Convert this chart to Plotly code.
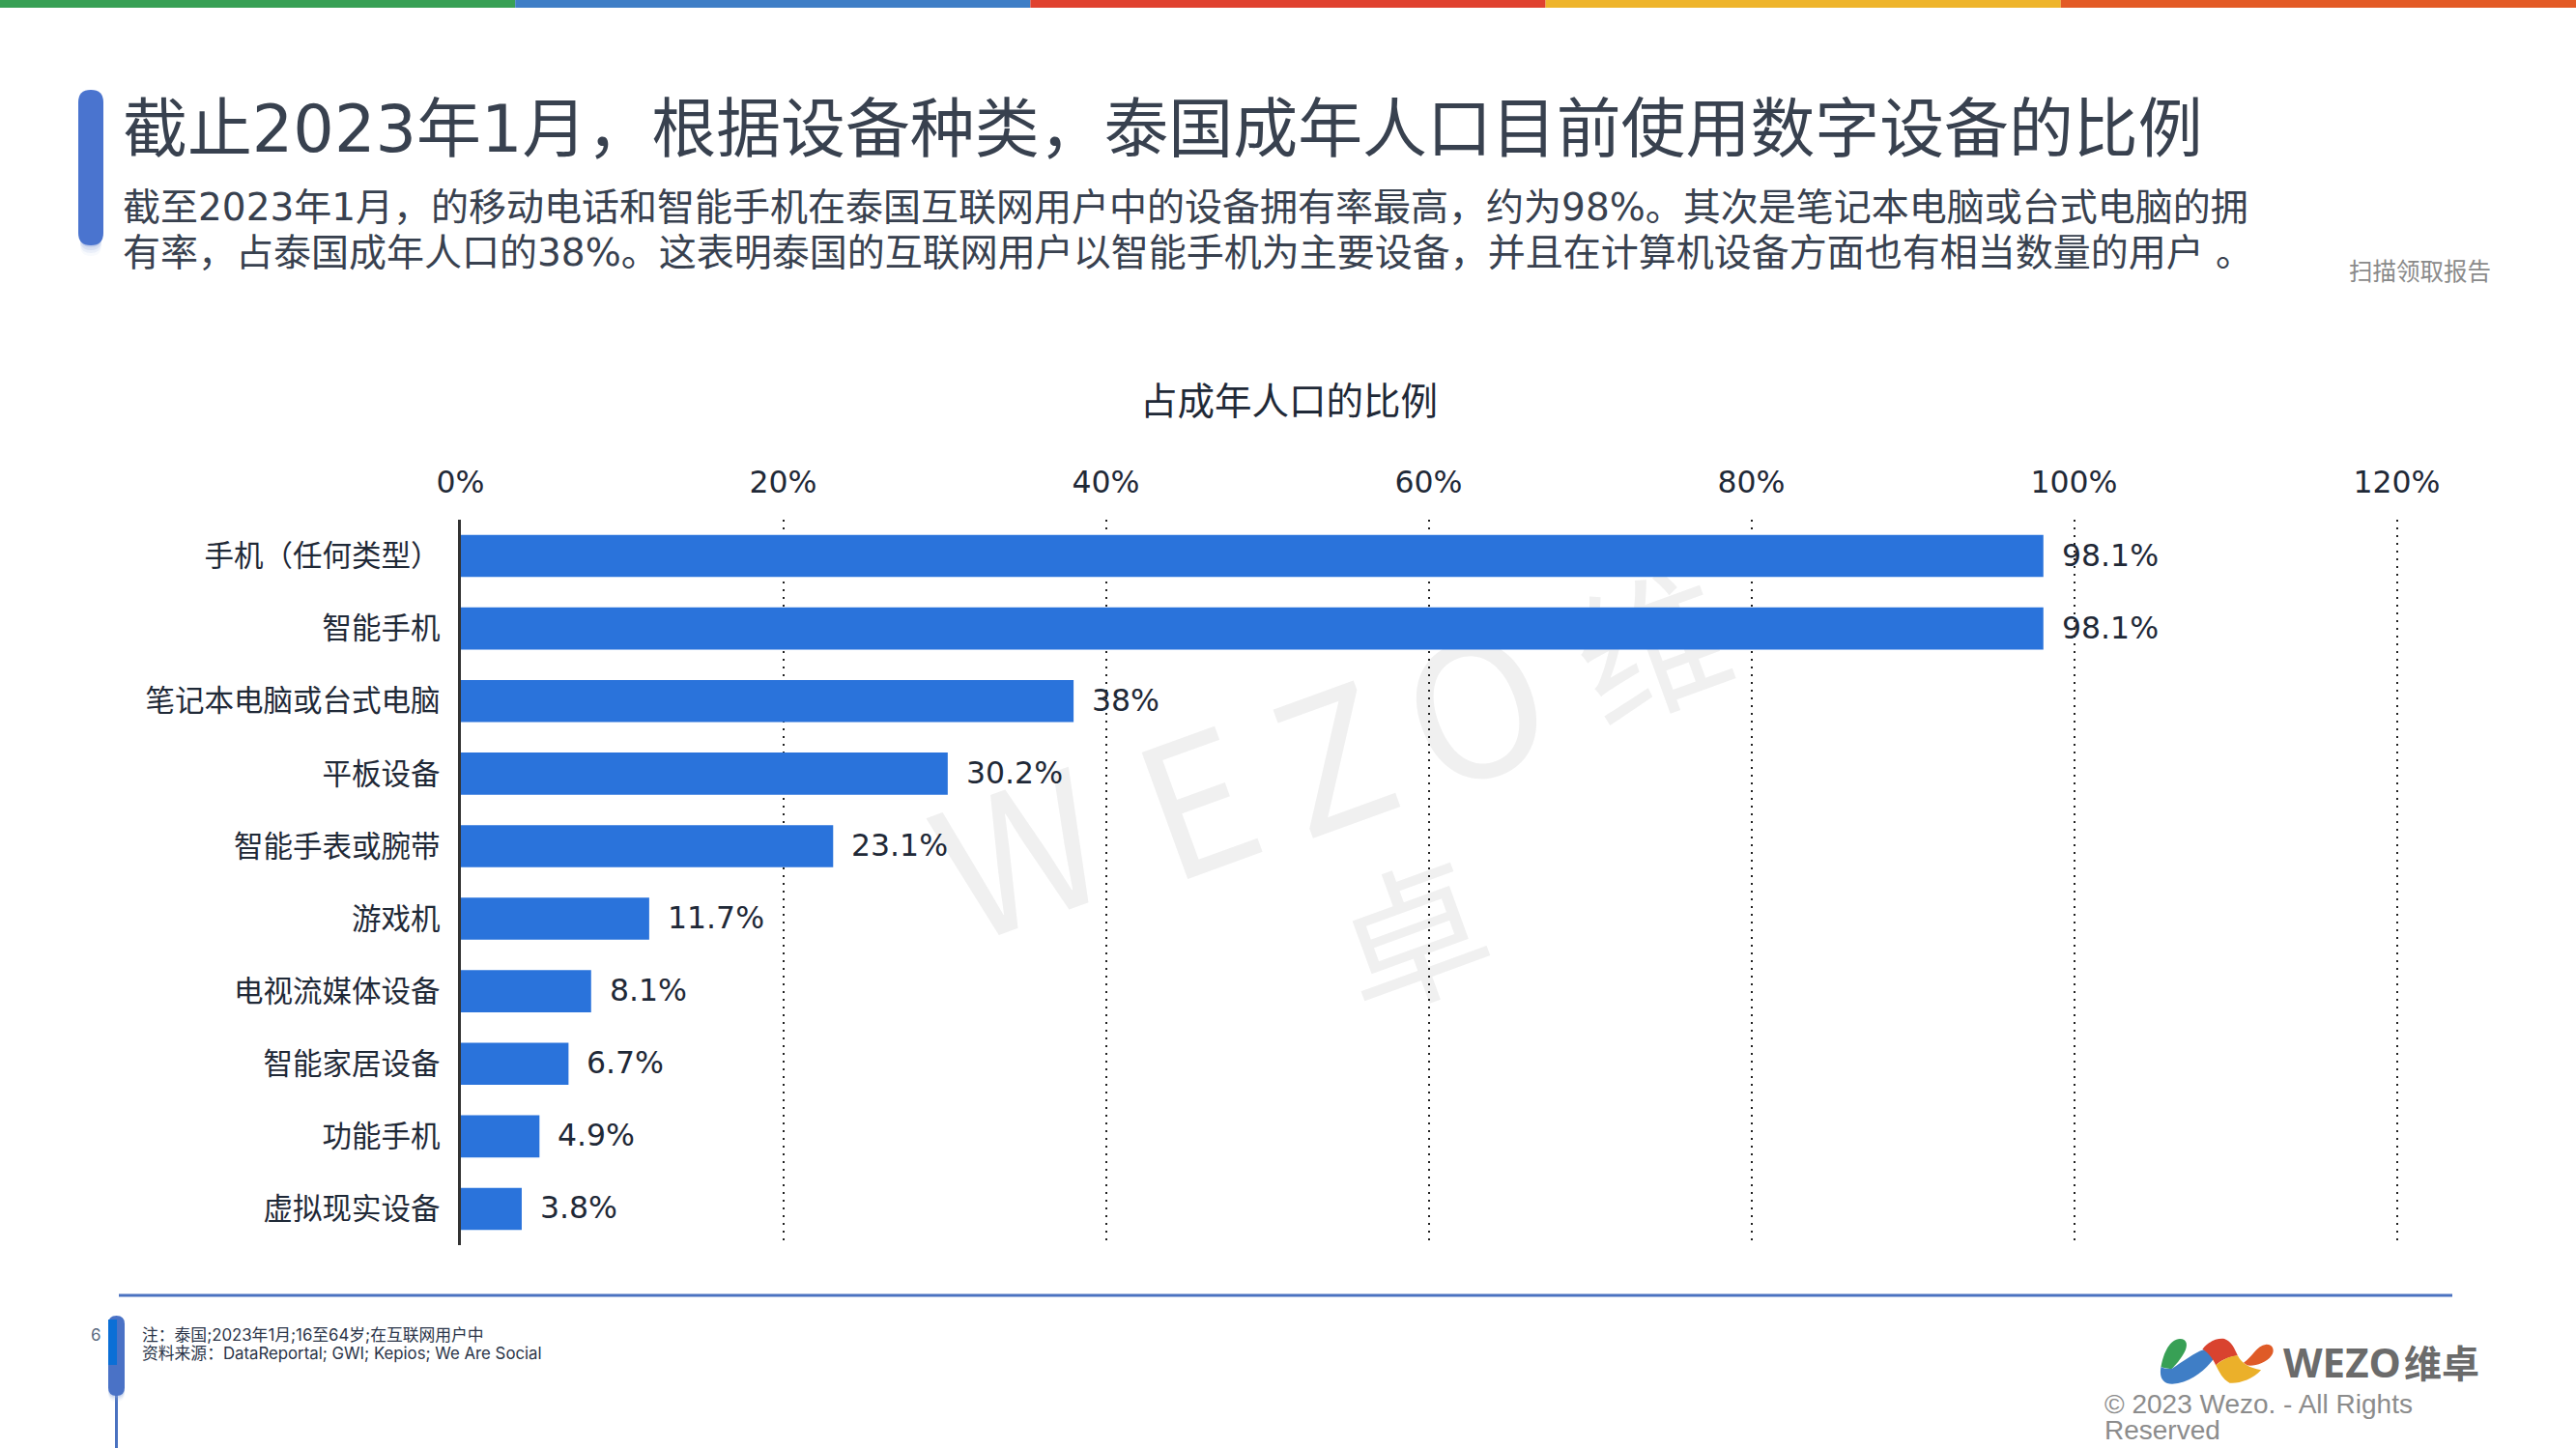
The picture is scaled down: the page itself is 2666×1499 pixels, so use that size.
import plotly.graph_objects as go

W, H = 2666, 1499
FONT = "DejaVu Sans, Noto Sans CJK SC"
SMALL = "Inter, Noto Sans CJK SC"
CJK = "Noto Sans CJK SC"

categories = ["手机（任何类型）", "智能手机", "笔记本电脑或台式电脑", "平板设备", "智能手表或腕带",
              "游戏机", "电视流媒体设备", "智能家居设备", "功能手机", "虚拟现实设备"]
values = [98.1, 98.1, 38, 30.2, 23.1, 11.7, 8.1, 6.7, 4.9, 3.8]
value_labels = ["98.1%", "98.1%", "38%", "30.2%", "23.1%", "11.7%", "8.1%", "6.7%", "4.9%", "3.8%"]
x_ticks = [0, 20, 40, 60, 80, 100, 120]
x_tick_labels = ["0%", "20%", "40%", "60%", "80%", "100%", "120%"]

title_text = "截止2023年1月，根据设备种类，泰国成年人口目前使用数字设备的比例"
sub_line1 = "截至2023年1月，的移动电话和智能手机在泰国互联网用户中的设备拥有率最高，约为98%。其次是笔记本电脑或台式电脑的拥"
sub_line2 = "有率，占泰国成年人口的38%。这表明泰国的互联网用户以智能手机为主要设备，并且在计算机设备方面也有相当数量的用户 。"
chart_title = "占成年人口的比例"
note1 = "注：泰国;2023年1月;16至64岁;在互联网用户中"
note2 = "资料来源：DataReportal; GWI; Kepios; We Are Social"
top_colors = ["#38A055", "#3F7EC6", "#E0412F", "#EEB42B", "#E35A25"]


def px(x):
    return x / W


def py(y):
    return 1 - y / H


def text(x, y, s, size, color="#38414f", xanchor="left", family=FONT, weight=None):
    f = dict(size=size, color=color, family=family)
    if weight:
        f["weight"] = weight
    return dict(text=s, x=px(x), y=py(y), xref="paper", yref="paper", xanchor=xanchor, yanchor="middle",
                showarrow=False, font=f, borderpad=0, borderwidth=0)


def rect(x0, y0, x1, y1, color, layer="above", opacity=1):
    return dict(type="rect", xref="paper", yref="paper", x0=px(x0), x1=px(x1), y0=py(y0), y1=py(y1),
                fillcolor=color, line_width=0, layer=layer, opacity=opacity)


def pill(x0, y0, x1, y1, color, opacity=1):
    r = (x1 - x0) / 2
    pts = (f"M {px(x0)} {py(y0 + r)} Q {px(x0)} {py(y0)} {px(x0 + r)} {py(y0)} Q {px(x1)} {py(y0)} {px(x1)} {py(y0 + r)} "
           f"L {px(x1)} {py(y1 - r)} Q {px(x1)} {py(y1)} {px(x0 + r)} {py(y1)} Q {px(x0)} {py(y1)} {px(x0)} {py(y1 - r)} Z")
    return dict(type="path", path=pts, xref="paper", yref="paper", fillcolor=color, line_width=0, layer="above",
                opacity=opacity)


def logo(segs, color):
    out = []
    nums = segs.split()
    i = 0
    while i < len(nums):
        t = nums[i]
        if t.isalpha():
            out.append(t)
            i += 1
        else:
            out.append(f"{px(2100 + float(t) / 2.77):.5f} {py(1300 + float(nums[i + 1]) / 3):.5f}")
            i += 2
    return dict(type="path", path=" ".join(out), xref="paper", yref="paper", fillcolor=color, line_width=0, layer="above")


def mark(cx, cy, s, size):
    half = 130
    return dict(type="rect", xref="paper", yref="paper", x0=px(cx - half), x1=px(cx + half), y0=py(cy + half),
                y1=py(cy - half), fillcolor="rgba(0,0,0,0)", line_width=0, layer="below",
                label=dict(text=s, textangle=-20, textposition="middle center",
                           font=dict(size=size, color="#f0f0f0", family=CJK)))


shapes = []
for i, c in enumerate(top_colors):
    shapes.append(rect(i * W / 5, 0, (i + 1) * W / 5, 8, c))
for k, op in enumerate([0.30, 0.20, 0.12, 0.06]):
    shapes.append(pill(83, 100, 105, 256 + 3 * k, "#8fa6dc", op))
shapes.append(pill(81, 93, 107, 254, "#4A74CF"))
shapes.append(rect(123, 1339.5, 2538, 1342.5, "#4A72C0"))
shapes.append(rect(119, 1440, 122, 1499, "#4A72C0"))
for k, op in enumerate([0.25, 0.15, 0.08]):
    shapes.append(pill(112, 1366, 129, 1447 + 2 * k, "#8fa6dc", op))
shapes.append(pill(112, 1362, 129, 1445, "#4A72C6"))
shapes.append(rect(112, 1366, 121, 1413, "#0B6FD6"))

shapes.append(logo("M 378 345 C 385 300 405 258 432 258 C 455 258 455 280 445 300 C 435 320 420 340 408 352 C 395 350 385 348 378 345 Z", "#38A055"))
shapes.append(logo("M 378 345 C 385 350 400 352 410 350 C 440 330 475 300 500 292 C 515 295 525 310 528 322 C 500 360 460 395 410 398 C 385 398 372 380 378 345 Z", "#3F7EC6"))
shapes.append(logo("M 497 290 C 515 265 540 255 560 258 C 580 265 590 290 598 310 C 570 315 550 325 535 340 C 530 325 515 300 497 290 Z", "#D9432F"))
shapes.append(logo("M 535 340 C 555 322 575 312 598 310 C 610 335 630 348 665 355 C 640 385 600 398 575 395 C 555 385 545 360 535 340 Z", "#EBB02A"))
shapes.append(logo("M 615 332 C 640 315 650 280 680 275 C 700 275 705 295 695 310 C 680 335 640 345 625 340 Z", "#DF5B27"))

for cx, cy, s, size in [(1062, 902, "W", 190), (1246, 848, "E", 190), (1386, 802, "Z", 190), (1534, 751, "O", 190),
                        (1715, 685, "维", 155), (1467, 985, "卓", 155)]:
    shapes.append(mark(cx, cy, s, size))

annotations = [
    text(127, 134, title_text, 66.9),
    text(127, 214, sub_line1, 39),
    text(127, 261, sub_line2, 39),
    text(2431, 280, "扫描领取报告", 24.5, "#8a8a8a", family=CJK),
    text(1334, 412, chart_title, 38.5, "#1f2937", "center", family=CJK),
    text(99, 1382, "6", 17, "#5b6b80", "center", family=SMALL),
    text(147, 1382, note1, 16.8, "#2a3448", family=SMALL),
    text(147, 1401, note2, 16.8, "#2a3448", family=SMALL),
    text(2363, 1409, "WEZO", 42, "#6b6b6b", family="Open Sans", weight=700),
    text(2488, 1409, "维卓", 39, "#6b6b6b", family=CJK, weight=700),
    text(2178, 1453, "© 2023 Wezo. - All Rights", 28, "#8c8c8c", family="Liberation Sans"),
    text(2178, 1480, "Reserved", 28, "#8c8c8c", family="Liberation Sans"),
]
for cat, val, lab in zip(categories, values, value_labels):
    annotations.append(dict(text=lab, x=val, y=cat, xref="x", yref="y", xanchor="left", yanchor="middle",
                            xshift=17, yshift=1, showarrow=False, font=dict(size=31.5, color="#1f2937", family=FONT)))

fig = go.Figure(go.Bar(x=values, y=categories, orientation="h", marker=dict(color="#2A73DB", line_width=0),
                       width=0.58, showlegend=False))
fig.update_layout(
    width=W, height=H, margin=dict(l=0, r=0, t=0, b=0, autoexpand=False), paper_bgcolor="white",
    plot_bgcolor="rgba(0,0,0,0)",
    font=dict(family=CJK, color="#1f2937"), shapes=shapes, annotations=annotations,
    xaxis=dict(domain=[px(476.5), px(476.5 + 16.7 * 121)], range=[0, 121], side="top", tickmode="array", tickvals=x_ticks,
               ticktext=x_tick_labels, tickfont=dict(size=31.5, color="#1f2937", family=FONT), ticks="outside", ticklen=14,
               tickcolor="rgba(0,0,0,0)", showgrid=True, gridcolor="#222222", gridwidth=2,
               griddash="2px,6px", zeroline=False, showline=False, automargin=False),
    yaxis=dict(domain=[py(1289), py(538)], autorange="reversed", tickfont=dict(size=30.5, color="#1f2937", family=CJK),
               ticks="outside", ticklen=12, tickcolor="rgba(0,0,0,0)", showline=True, linecolor="#333333", linewidth=3,
               showgrid=False, zeroline=False, automargin=False),
)
fig.write_html("out.html", post_script="document.body.style.margin='0';", config={"displayModeBar": False})
